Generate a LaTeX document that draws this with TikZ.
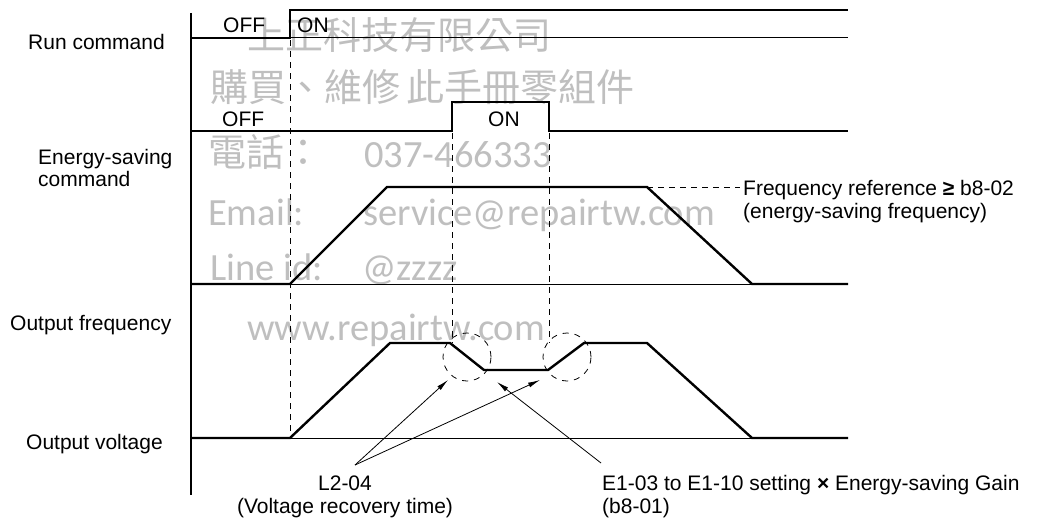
\documentclass[tikz,border=0pt]{standalone}
\usepackage{fontspec}
\setmainfont{Liberation Sans}
\newfontfamily\cjkf{Noto Sans CJK TC}
\newfontfamily\wmlat{Carlito}
\usetikzlibrary{arrows.meta}
\begin{document}
\begin{tikzpicture}[x=1pt,y=-1pt,
  sig/.style={line width=2.4pt, line join=miter},
  basel/.style={line width=1pt},
  axisline/.style={line width=1.3pt},
  guide/.style={line width=0.9pt, dash pattern=on 6pt off 5pt},
  ring/.style={line width=0.8pt, dash pattern=on 6pt off 6pt},
  lbl/.style={font=\fontsize{21}{23}\selectfont, inner sep=0pt, anchor=base west},
  clbl/.style={font=\fontsize{21}{23}\selectfont, inner sep=0pt, anchor=base},
  wmc/.style={text=black!25, inner sep=0pt, anchor=base west, font=\cjkf\fontsize{38}{38}\selectfont},
  wml/.style={text=black!25, inner sep=0pt, anchor=base west, font=\wmlat\fontsize{38.5}{38.5}\selectfont},
  ptr/.style={line width=0.8pt, -{Latex[length=12pt,width=5pt]}}
]
\useasboundingbox (0,0) rectangle (1038,519);
\fill[white] (0,0) rectangle (1038,519);

% watermark
\node[wmc] (wm1) at (247,50) {上正科技有限公司};
\node[wmc] (wm2) at (210,101) {購買、維修\hspace{6pt}此手冊零組件};
\node[wmc] (wm3) at (208,166) {電話：};
\node[wml] (wm3b) at (364,167) {037-466333};
\node[wml] (wm4) at (208,225) {Email:};
\node[wml] (wm4b) at (363,225) {service@repairtw.com};
\node[wml] (wm5) at (210,280) {Line id:};
\node[wml] (wm5b) at (362,280) {@zzzz};
\node[wml] (wm6) at (247,340) {www.repairtw.com};

% axis
\draw[axisline] (191,13) -- (191,495);

% run command
\draw[sig] (191,38) -- (290,38) -- (290,10) -- (848,10);
\draw[basel] (290,38) -- (848,38);
% energy-saving command
\draw[sig] (191,131) -- (452,131) -- (452,102) -- (549,102) -- (549,131) -- (848,131);
% output frequency
\draw[basel] (290,284) -- (752,284);
\draw[sig] (191,284) -- (290,284) -- (387,187) -- (647,187) -- (752,284) -- (848,284);
% output voltage
\draw[basel] (290,438) -- (752,438);
\draw[sig] (191,438) -- (290,438) -- (390,343) -- (450,343) -- (484,370) -- (548,370) -- (584,343) -- (647,343) -- (752,438) -- (848,438);

% guides
\draw[guide] (290,40) -- (290,436);
\draw[guide] (452,133) -- (452,343);
\draw[guide] (549,133) -- (549,343);
\draw[ring] (467,357) circle[radius=24pt];
\draw[ring] (567,357) circle[radius=24pt];

% left labels
\node[lbl] (run) at (28,50) {Run command};
\node[lbl] (es1) at (38,164) {Energy-saving};
\node[lbl] (es2) at (38,186) {command};
\node[lbl] (of) at (10,330) {Output frequency};
\node[lbl] (ov) at (26,449) {Output voltage};

% state labels
\node[lbl] (off1) at (223,33) {OFF};
\node[lbl] (on1) at (297,33) {ON};
\node[lbl] (off2) at (222,126) {OFF};
\node[lbl] (on2) at (488,126) {ON};

% frequency reference
\node[lbl] (fr1) at (743,195) {Frequency reference \textbf{≥} b8-02};
\node[lbl] (fr2) at (743,218) {(energy-saving frequency)};
\coordinate (frc) at (647,187);
\coordinate (fre) at (740,187);
\draw[guide] (frc) -- (fre);

% bottom labels
\node[clbl] (l2a) at (345,490) {L2-04};
\node[clbl] (l2b) at (345,513) {(Voltage recovery time)};
\node[lbl] (e1a) at (602,490) {E1-03 to E1-10 setting \textbf{×} Energy-saving Gain};
\node[lbl] (e1b) at (602,513) {(b8-01)};

\coordinate (apex) at (355,465);
\coordinate (t1) at (448,380);
\coordinate (t2) at (540,380);
\coordinate (e1s) at (601,463);
\coordinate (t3) at (497,382);
\draw[ptr] (apex) -- (t1);
\draw[ptr] (apex) -- (t2);
\draw[ptr] (e1s) -- (t3);
\end{tikzpicture}
\end{document}
